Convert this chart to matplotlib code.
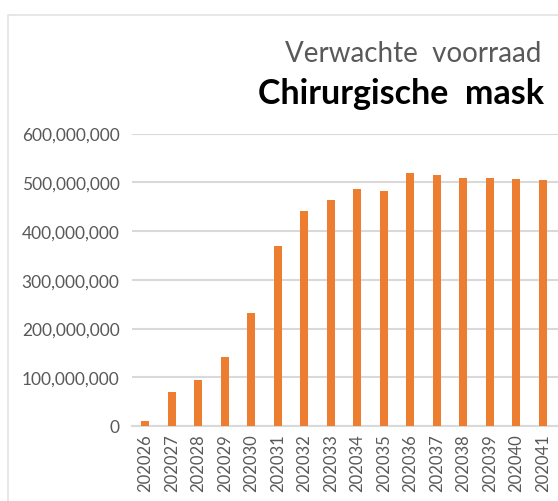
import matplotlib
matplotlib.use("Agg")
import matplotlib.pyplot as plt
from matplotlib.ticker import FuncFormatter, MultipleLocator
from matplotlib.patches import Rectangle

categories = ["202026", "202027", "202028", "202029", "202030", "202031", "202032", "202033",
              "202034", "202035", "202036", "202037", "202038", "202039", "202040", "202041"]
values = [11e6, 69e6, 94e6, 142e6, 231e6, 369e6, 441e6, 464e6,
          487e6, 482e6, 520e6, 514e6, 509e6, 509e6, 507e6, 505e6]
title_line1 = "Verwachte  voorraad"
title_line2 = "Chirurgische  mask"

plt.rcParams['font.family'] = ['Lato', 'DejaVu Sans']

W, H = 558, 502
fig = plt.figure(figsize=(W / 100, H / 100), dpi=100)

# outer chart frame (cropped)
fig.patches.append(Rectangle((8 / W, -0.1), 1.2, 1 - 16 / H + 0.1, transform=fig.transFigure,
                             fill=False, edgecolor="#E3E3E3", linewidth=1.2))

ax_left = 132 / W
ax_bottom = 1 - 427 / H
ax_top = 1 - 134.5 / H
ax_right_px = 562
ax = fig.add_axes([ax_left, ax_bottom, (ax_right_px - 132) / W, ax_top - ax_bottom])

x = list(range(len(categories)))
ax.bar(x, values, width=0.31, color="#ED7D31", zorder=3)

spacing = (542.7 - 145.3) / 15
ax.set_xlim(-(145.3 - 132) / spacing, 15 + (ax_right_px - 542.7) / spacing)
ax.set_ylim(0, 600e6)
ax.yaxis.set_major_locator(MultipleLocator(100e6))
ax.yaxis.set_major_formatter(FuncFormatter(lambda v, p: f"{int(v):,}"))
ax.set_xticks(x)
ax.set_xticklabels(categories, rotation=90)

ax.grid(axis="y", color="#D9D9D9", linewidth=1.5, zorder=0)
for s in ["top", "right", "left"]:
    ax.spines[s].set_visible(False)
ax.spines["bottom"].set_color("#D9D9D9")
ax.spines["bottom"].set_linewidth(1.5)
ax.tick_params(axis="both", length=0, labelcolor="#595959")
ax.tick_params(axis="y", pad=9, labelsize=12.5)
ax.tick_params(axis="x", pad=5, labelsize=12)

fig.text(285 / W, 1 - 61.7 / H, title_line1, fontsize=20, color="#595959",
         ha="left", va="baseline")
fig.text(258 / W, 1 - 104 / H, title_line2, fontsize=24.5, color="black",
         fontweight="bold", ha="left", va="baseline")

fig.savefig("out.png", dpi=100, facecolor="white")
